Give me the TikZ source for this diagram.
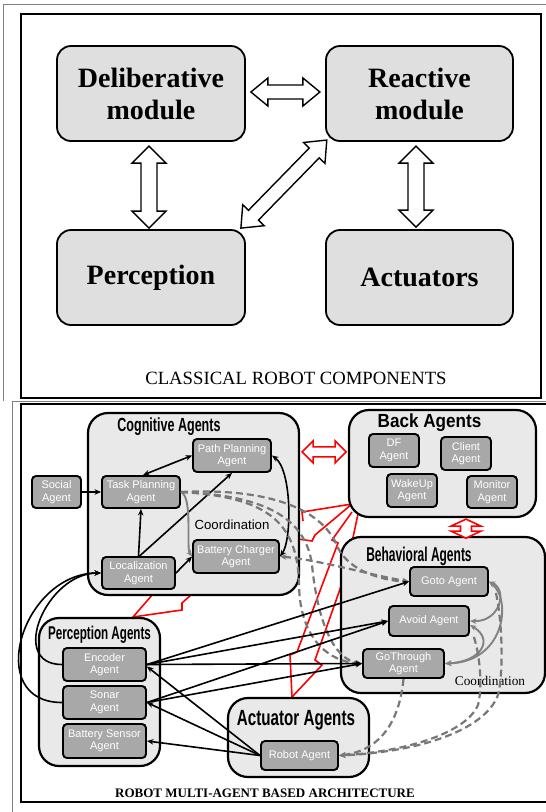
\documentclass[tikz,border=0pt]{standalone}
\usepackage{graphicx}
\usepackage{fontspec}
\setmainfont{Liberation Serif}
\newfontfamily\arialf{Liberation Sans}
\usetikzlibrary{arrows.meta,calc}
\definecolor{boxgray}{RGB}{223,223,223}
\definecolor{grpgray}{RGB}{233,233,233}
\definecolor{agtgray}{RGB}{168,168,168}
\definecolor{lngray}{RGB}{120,120,120}
\definecolor{crdgray}{RGB}{130,130,130}
\begin{document}
\begin{tikzpicture}[x=1pt,y=-1pt,
  topbox/.style={draw, line width=1.8pt, rounded corners=14pt, fill=boxgray, align=center,
    font=\bfseries\fontsize{28}{32}\selectfont, inner sep=0pt},
  grp/.style={draw, line width=2.2pt, rounded corners=20pt, fill=grpgray, inner sep=0pt},
  agt/.style={draw, line width=1.9pt, rounded corners=4pt, fill=agtgray, text=white, align=center,
    font=\arialf\fontsize{11}{12.5}\selectfont, inner sep=0pt},
  ttl/.style={anchor=base, inner sep=0pt},
  tip/.tip={Stealth[length=6.5pt,width=5.5pt]},
  blk/.style={line width=1.6pt, -tip},
  blkd/.style={line width=1.6pt, tip-tip},
  crd/.style={line width=1.9pt, draw=crdgray, -tip},
  crdd/.style={line width=1.9pt, draw=crdgray, tip-tip},
  dsh/.style={line width=2.2pt, draw=lngray, dash pattern=on 7pt off 4pt, -tip},
  dshd/.style={line width=2.2pt, draw=lngray, dash pattern=on 7pt off 4pt, tip-tip},
  bolt/.style={draw=red, line width=1.6pt, line join=miter},
  pics/dblarr/.style n args={4}{code={
    \path[pic actions] (0,0) -- (#4,#3) -- (#4,#2) -- (#1-#4,#2) -- (#1-#4,#3) -- (#1,0)
      -- (#1-#4,-#3) -- (#1-#4,-#2) -- (#4,-#2) -- (#4,-#3) -- cycle;}},
  blockarr/.style={draw=black, fill=white, line width=1.4pt, line join=miter},
  redarr/.style={draw=red, fill=white, line width=1.6pt, line join=miter}
]
\useasboundingbox (0,0) rectangle (546,812);

% ---------- frames ----------
\draw[line width=0.8pt, draw=gray] (3.5,401) -- (3.5,4) -- (546,4);
\draw[line width=1.6pt] (21,14) rectangle (541,398);
\draw[line width=0.8pt, draw=gray] (12,812) -- (12,401) -- (546,401);
\draw[line width=2pt] (547,404) -- (21,404) -- (21,802) -- (547,802);

% ---------- classical robot components ----------
\node[topbox, minimum width=188, minimum height=95] (delib) at (151,93.5) {Deliberative\\module};
\node[topbox, minimum width=187, minimum height=95] (react) at (419.5,93.5) {Reactive\\module};
\node[topbox, minimum width=188, minimum height=95] (percb) at (151,277.5) {Perception};
\node[topbox, minimum width=187, minimum height=95] (actb) at (419.5,277.5) {Actuators};

\pic[blockarr] at ($(delib.east)+(5,-1.5)$) {dblarr={69}{7}{14}{17}};
\pic[blockarr, rotate=90] at ($(percb.north)+(-2,-1)$) {dblarr={82}{8}{17}{17}};
\pic[blockarr, rotate=90] at ($(actb.north)+(-3.5,-2)$) {dblarr={81}{8}{17}{17}};
\pic[blockarr, rotate=45.7] at ($(percb.north east)+(-5,-1)$) {dblarr={123}{7}{15}{18}};

\node[font=\fontsize{18.7}{20}\selectfont, anchor=base] (cap1) at (296,384) {CLASSICAL ROBOT COMPONENTS};

% ---------- red lightning links (behind groups) ----------
\draw[bolt] (153,594) -- (133,617) -- (182,610) -- (182,603) -- (192,594);
\draw[bolt] (303,521) -- (302,512) -- (352,504) -- (315,535) -- (312,541) -- (298,539);
\draw[bolt] (352,512) -- (332,540) -- (338,543) -- (297,652) -- (290,655) -- (292,697);
\draw[bolt] (358,514) -- (345,575) -- (315,660) -- (322,665) -- (292,697);

% ---------- groups ----------
\node[grp, minimum width=211, minimum height=182] (cog) at (193.5,504) {};
\node[grp, minimum width=187, minimum height=107] (back) at (442.5,463.5) {};
\node[grp, minimum width=204, minimum height=156] (behav) at (443,615) {};
\node[grp, minimum width=121, minimum height=148] (perc) at (99.5,692) {};
\node[grp, minimum width=141, minimum height=79] (act) at (298.5,737.5) {};

\node[ttl, font=\arialf\bfseries\fontsize{19}{19}\selectfont] (cogt) at (169,431) {\scalebox{0.66}[1]{Cognitive Agents}};
\node[ttl, font=\arialf\bfseries\fontsize{19}{19}\selectfont] (backt) at (429.5,427.5) {\scalebox{0.90}[1]{Back Agents}};
\node[ttl, font=\arialf\bfseries\fontsize{20}{20}\selectfont] (behavt) at (419,561) {\scalebox{0.60}[1]{Behavioral Agents}};
\node[ttl, font=\arialf\bfseries\fontsize{18.5}{18.5}\selectfont] (perct) at (99.5,639.5) {\scalebox{0.63}[1]{Perception Agents}};
\node[ttl, font=\arialf\bfseries\fontsize{22}{22}\selectfont] (actt) at (296,725.5) {\scalebox{0.69}[1]{Actuator Agents}};

% ---------- agents ----------
\node[agt, minimum width=78, minimum height=33] (pathp) at (232,455.5) {Path Planning\\Agent};
\node[agt, minimum width=78, minimum height=32] (task) at (141,492) {Task Planning\\Agent};
\node[agt, minimum width=49, minimum height=32] (social) at (56.5,492) {Social\\Agent};
\node[agt, minimum width=73, minimum height=32] (loc) at (138.5,573) {Localization\\Agent};
\node[agt, minimum width=86, minimum height=33] (batt) at (236,556.5) {Battery Charger\\Agent};

\node[agt, minimum width=50, minimum height=33] (df) at (394,450.5) {DF\\Agent};
\node[agt, minimum width=50, minimum height=33] (client) at (466,453.5) {Client\\Agent};
\node[agt, minimum width=50, minimum height=33] (wake) at (412,490.5) {WakeUp\\Agent};
\node[agt, minimum width=50, minimum height=32] (monitor) at (492,492) {Monitor\\Agent};

\node[agt, minimum width=78, minimum height=29] (goto) at (449,581.5) {Goto Agent};
\node[agt, minimum width=80, minimum height=30] (avoid) at (429,621) {Avoid Agent};
\node[agt, minimum width=81, minimum height=29] (gothr) at (403.5,663.5) {GoThrough\\Agent};

\node[agt, minimum width=83, minimum height=33] (enc) at (104.5,664.5) {Encoder\\Agent};
\node[agt, minimum width=83, minimum height=33] (sonar) at (104.5,702.5) {Sonar\\Agent};
\node[agt, minimum width=83, minimum height=34] (bsens) at (104.5,741) {Battery Sensor\\Agent};

\node[agt, minimum width=77, minimum height=29] (robot) at (299.5,755.5) {Robot Agent};

\node[font=\arialf\fontsize{13.2}{14}\selectfont, anchor=base] (crd1) at (232,529) {Coordination};
\node[font=\fontsize{13.3}{14}\selectfont, anchor=base] (crd2) at (490,685) {Coordination};

% ---------- red double arrows ----------
\pic[redarr] at ($(cog.north east)+(2,40)$) {dblarr={44}{5}{11}{11}};
\pic[redarr, rotate=90] at ($(back.south)+(23.5,20)$) {dblarr={19}{5.5}{15}{7}};

% ---------- cognitive links ----------
\draw[blkd] ([xshift=2pt]task.north) -- (pathp.west);
\draw[blk] (social) -- (task);
\draw[blk] (loc.north) -- (task.south);
\draw[blk] ([xshift=1pt]loc.north) -- (pathp.south);
\draw[blk] (loc.east) -- (batt.west);
\draw[blkd] (pathp.east) .. controls (292,470) and (292,540) .. (batt.east);
\draw[crd] (task.east) .. controls (193,497) and (186,548) .. (batt.west);

% ---------- coordination dashed (cognitive -> behavioral) ----------
\draw[dsh] (task.east) .. controls (260,488) and (322,505) .. (338,548) .. controls (350,572) and (385,581) .. (goto.west);
\draw[dshd] (batt.east) .. controls (320,560) and (370,575) .. (goto.west);
\draw[dsh] (task.east) .. controls (265,497) and (298,520) .. (299,585) .. controls (300,640) and (330,662) .. (gothr.west);
\draw[dsh] (task.east) .. controls (250,495) and (305,510) .. (312,565) .. controls (318,625) and (335,660) .. (gothr.west);

% ---------- behavioral coordination ----------
\draw[crdd] (goto.east) .. controls (508,590) and (500,622) .. (avoid.east);
\draw[crdd] (goto.east) .. controls (512,600) and (505,662) .. (gothr.east);
\draw[crdd] ([yshift=-4pt]avoid.east) .. controls (495,640) and (480,662) .. (gothr.east);

% ---------- dashed to robot ----------
\draw[dsh] (gothr.south) .. controls (400,715) and (385,750) .. (robot.east);
\draw[dsh] ([xshift=4pt]avoid.south east) .. controls (481,660) and (482,690) .. (478,705) .. controls (465,735) and (400,752) .. (robot.east);
\draw[dsh] ([xshift=7pt,yshift=4pt]goto.south east) .. controls (502,620) and (504,670) .. (498,695) .. controls (485,730) and (420,752) .. (robot.east);

% ---------- perception / actuator links ----------
\draw[blk] (enc.east) -- (goto.west);
\draw[blk] (enc.east) -- (avoid.west);
\draw[blk] (enc.east) -- (gothr.west);
\draw[blk] (sonar.east) -- (avoid.west);
\draw[blk] (sonar.east) -- (gothr.west);
\draw[blk] (robot.west) -- ([yshift=-2pt]enc.east);
\draw[blk] (robot.west) -- (sonar.east);
\draw[blk] (robot.west) -- (bsens.east);
\draw[blk] (sonar.west) to[out=180,in=180,looseness=1.5] (loc.west);
\draw[blk] (enc.west) to[out=180,in=180,looseness=1.4] (loc.west);

\node[font=\bfseries\fontsize{13}{14}\selectfont, anchor=base] (cap2) at (265,797) {ROBOT MULTI-AGENT BASED ARCHITECTURE};
\end{tikzpicture}
\end{document}
